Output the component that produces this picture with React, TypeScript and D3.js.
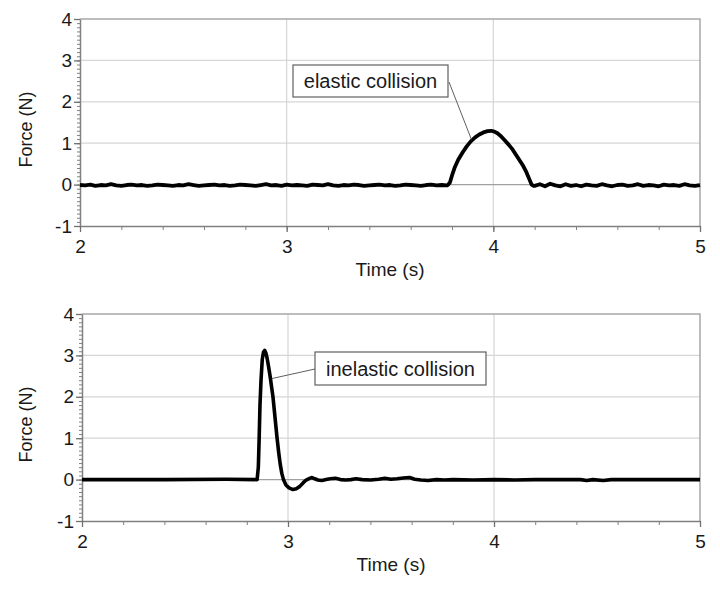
import React, { useEffect, useRef } from 'react';
import * as d3 from 'd3';

type Pt = [number, number];

// axes
const timeDomain: [number, number] = [2, 5];
const forceDomain: [number, number] = [-1, 4];
const timeTicks = [2, 3, 4, 5];
const forceTicks = [-1, 0, 1, 2, 3, 4];

// logger samples, every 25 ms, on the flat parts of the elastic run
const sampleStep = 0.025;
const elasticBeforeStart = 2.0;
const elasticBeforeNoise = [
  -0.01, -0.02, 0.0, -0.03, -0.01, -0.02, 0.01, -0.02, -0.03, -0.01,
  0.0, -0.02, -0.01, -0.03, -0.02, 0.0, -0.01, -0.02, -0.03, -0.01,
  -0.02, 0.01, -0.01, -0.03, -0.02, -0.01, 0.0, -0.02, -0.01, -0.03,
  -0.02, 0.0, -0.01, -0.02, -0.03, -0.01, 0.01, -0.02, -0.01, -0.03,
  0.0, -0.02, -0.01, -0.02, -0.03, 0.0, -0.01, -0.02, 0.01, -0.02,
  -0.03, -0.01, -0.02, 0.0, -0.01, -0.03, -0.02, -0.01, 0.0, -0.02,
  -0.01, -0.03, -0.02, 0.0, -0.01, -0.02, -0.03, -0.01, 0.0, -0.02,
  -0.01, -0.02,
];
const elasticPulse: Pt[] = [
  [3.78, -0.01], [3.79, 0.05], [3.8, 0.22], [3.812, 0.4], [3.83, 0.6],
  [3.852, 0.78], [3.872, 0.93], [3.892, 1.05], [3.912, 1.14], [3.932, 1.21],
  [3.952, 1.26], [3.972, 1.29], [3.99, 1.3], [4.005, 1.28], [4.02, 1.24],
  [4.037, 1.17], [4.055, 1.07], [4.075, 0.96], [4.093, 0.85], [4.115, 0.68],
  [4.141, 0.48], [4.16, 0.3], [4.175, 0.12], [4.185, 0.0], [4.195, -0.03],
];
const elasticAfterStart = 4.2;
const elasticAfterNoise = [
  -0.03, 0.01, -0.04, 0.02, -0.02, -0.04, 0.01, -0.03, -0.01, -0.04,
  0.0, -0.02, -0.03, 0.01, -0.02, -0.04, -0.01, 0.0, -0.03, -0.02,
  0.01, -0.03, -0.01, -0.02, -0.04, 0.0, -0.02, -0.01, -0.03, 0.01,
  -0.02, -0.03, -0.01,
];

const inelasticSeries: Pt[] = [
  [2.0, 0.0], [2.4, 0.0], [2.7, 0.01], [2.85, 0.0], [2.856, 0.3],
  [2.86, 1.0], [2.864, 1.8], [2.869, 2.4], [2.875, 2.9], [2.881, 3.08],
  [2.887, 3.12], [2.893, 3.05], [2.898, 2.95], [2.905, 2.75], [2.913, 2.5],
  [2.92, 2.25], [2.927, 2.0], [2.937, 1.5], [2.947, 1.0], [2.955, 0.65],
  [2.962, 0.38], [2.97, 0.15], [2.978, 0.0], [2.99, -0.13], [3.005, -0.2],
  [3.024, -0.24], [3.04, -0.22], [3.056, -0.17], [3.073, -0.08], [3.088, -0.01],
  [3.105, 0.03], [3.117, 0.05], [3.13, 0.02], [3.145, -0.01], [3.165, -0.02],
  [3.185, 0.0], [3.205, 0.02], [3.23, 0.03], [3.255, 0.0], [3.28, -0.01],
  [3.305, 0.0], [3.33, 0.02], [3.36, 0.0], [3.4, -0.01], [3.44, 0.01],
  [3.47, 0.03], [3.5, 0.01], [3.53, 0.02], [3.56, 0.04], [3.59, 0.05],
  [3.615, 0.01], [3.645, -0.01], [3.68, -0.02], [3.72, 0.0], [3.76, -0.01],
  [3.8, 0.0], [3.9, -0.01], [4.0, 0.0], [4.1, -0.01], [4.2, 0.0],
  [4.42, 0.0], [4.45, -0.02], [4.48, 0.0], [4.53, -0.02], [4.57, 0.0],
  [4.7, 0.0], [5.0, 0.0],
];

const elasticSeries: Pt[] = [
  ...elasticBeforeNoise.map((v, i) => [elasticBeforeStart + i * sampleStep, v] as Pt),
  ...elasticPulse,
  ...elasticAfterNoise.map((v, i) => [elasticAfterStart + i * sampleStep, v] as Pt),
];

interface PanelSpec {
  series: Pt[];
  strokeWidth: number;
  left: number;
  right: number;
  top: number;
  bottom: number;
  label: string;
  box: { x: number; y: number; w: number; h: number };
  leaderFrom: [number, number];
  leaderTo: Pt; // in data units
}

const panels: PanelSpec[] = [
  {
    series: elasticSeries,
    strokeWidth: 3.8,
    left: 80,
    right: 700,
    top: 19,
    bottom: 226,
    label: 'elastic collision',
    box: { x: 293, y: 65, w: 155, h: 32 },
    leaderFrom: [449, 82],
    leaderTo: [3.894, 1.09],
  },
  {
    series: inelasticSeries,
    strokeWidth: 3.6,
    left: 82,
    right: 700,
    top: 314,
    bottom: 521,
    label: 'inelastic collision',
    box: { x: 315, y: 352, w: 171, h: 33 },
    leaderFrom: [315, 369],
    leaderTo: [2.921, 2.44],
  },
];

const font = '"Liberation Sans", Arial, sans-serif';

export default function App() {
  const svgRef = useRef<SVGSVGElement | null>(null);

  useEffect(() => {
    if (!svgRef.current) return;
    const svg = d3.select(svgRef.current);
    svg.selectAll('*').remove();

    panels.forEach((p) => {
      const x = d3.scaleLinear().domain(timeDomain).range([p.left, p.right]);
      const y = d3.scaleLinear().domain(forceDomain).range([p.bottom, p.top]);
      const g = svg.append('g');

      // grid
      g.selectAll('.hgrid')
        .data(forceTicks.filter((t) => t > -1 && t < 4 && t !== 0))
        .enter()
        .append('line')
        .attr('x1', p.left)
        .attr('x2', p.right)
        .attr('y1', (d) => y(d))
        .attr('y2', (d) => y(d))
        .attr('stroke', '#d6d6d6')
        .attr('stroke-width', 1.2);
      g.selectAll('.vgrid')
        .data(timeTicks.filter((t) => t > 2 && t < 5))
        .enter()
        .append('line')
        .attr('x1', (d) => x(d))
        .attr('x2', (d) => x(d))
        .attr('y1', p.top)
        .attr('y2', p.bottom)
        .attr('stroke', '#d6d6d6')
        .attr('stroke-width', 1.2);

      // zero line
      g.append('line')
        .attr('x1', p.left)
        .attr('x2', p.right)
        .attr('y1', y(0))
        .attr('y2', y(0))
        .attr('stroke', '#a0a0a0')
        .attr('stroke-width', 1.2);

      // top and right frame
      g.append('path')
        .attr('d', `M${p.left},${p.top}H${p.right}V${p.bottom}`)
        .attr('fill', 'none')
        .attr('stroke', '#a8a8a8')
        .attr('stroke-width', 1.5);

      // minor ticks
      g.append('g')
        .attr('transform', `translate(${p.left},0)`)
        .call(d3.axisLeft(y).ticks(50).tickSize(3).tickFormat(() => ''))
        .call((a) => a.select('.domain').remove())
        .call((a) => a.selectAll('line').attr('stroke', '#808080'));
      g.append('g')
        .attr('transform', `translate(0,${p.bottom})`)
        .call(d3.axisBottom(x).ticks(15).tickSize(4).tickFormat(() => ''))
        .call((a) => a.select('.domain').remove())
        .call((a) => a.selectAll('line').attr('stroke', '#808080'));

      // major axes
      const fmt = (d: d3.NumberValue) => String(d);
      const yAxis = g
        .append('g')
        .attr('transform', `translate(${p.left},0)`)
        .call(
          d3.axisLeft(y).tickValues(forceTicks).tickFormat(fmt).tickSize(6).tickPadding(2).tickSizeOuter(0)
        );
      const xAxis = g
        .append('g')
        .attr('transform', `translate(0,${p.bottom})`)
        .call(
          d3.axisBottom(x).tickValues(timeTicks).tickFormat(fmt).tickSize(6).tickPadding(8).tickSizeOuter(0)
        );
      [yAxis, xAxis].forEach((a) => {
        a.select('.domain').attr('stroke', '#808080').attr('stroke-width', 1.5);
        a.selectAll('line').attr('stroke', '#707070').attr('stroke-width', 1.3);
        a.selectAll('text')
          .attr('font-family', font)
          .attr('font-size', 19)
          .attr('fill', '#1a1a1a');
      });

      // data
      const line = d3
        .line<Pt>()
        .x((d) => x(d[0]))
        .y((d) => y(d[1]));
      g.append('path')
        .datum(p.series)
        .attr('d', line)
        .attr('fill', 'none')
        .attr('stroke', '#000')
        .attr('stroke-width', p.strokeWidth)
        .attr('stroke-linejoin', 'round');

      // axis titles
      g.append('text')
        .attr('transform', `translate(32,${(p.top + p.bottom) / 2 + 7}) rotate(-90)`)
        .attr('text-anchor', 'middle')
        .attr('font-family', font)
        .attr('font-size', 18)
        .attr('fill', '#1a1a1a')
        .text('Force (N)');
      g.append('text')
        .attr('x', (p.left + p.right) / 2)
        .attr('y', p.bottom + 50)
        .attr('text-anchor', 'middle')
        .attr('font-family', font)
        .attr('font-size', 19)
        .attr('fill', '#1a1a1a')
        .text('Time (s)');

      // annotation
      g.append('line')
        .attr('x1', p.leaderFrom[0])
        .attr('y1', p.leaderFrom[1])
        .attr('x2', x(p.leaderTo[0]))
        .attr('y2', y(p.leaderTo[1]))
        .attr('stroke', '#606060')
        .attr('stroke-width', 1);
      g.append('rect')
        .attr('x', p.box.x)
        .attr('y', p.box.y)
        .attr('width', p.box.w)
        .attr('height', p.box.h)
        .attr('fill', '#fff')
        .attr('stroke', '#606060')
        .attr('stroke-width', 1.2);
      g.append('text')
        .attr('x', p.box.x + p.box.w / 2)
        .attr('y', p.box.y + p.box.h / 2 + 7)
        .attr('text-anchor', 'middle')
        .attr('font-family', font)
        .attr('font-size', 20)
        .attr('fill', '#1a1a1a')
        .text(p.label);
    });
  }, []);

  return (
    <svg
      ref={svgRef}
      width={720}
      height={589}
      style={{ position: 'absolute', left: 0, top: 0, background: '#fff' }}
    />
  );
}
